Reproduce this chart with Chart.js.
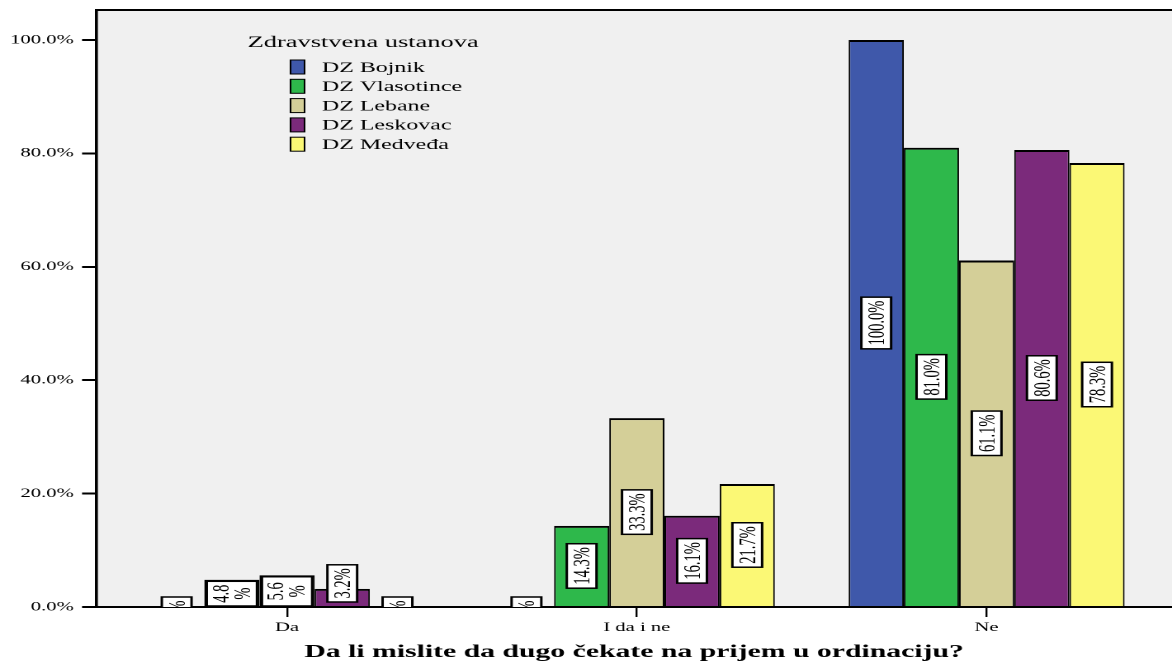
<!DOCTYPE html>
<html>
<head>
<meta charset="utf-8">
<script src="https://cdn.jsdelivr.net/npm/chart.js@4"></script>
<style>
  html, body { margin: 0; padding: 0; background: #fff; overflow: hidden; }
  /* the chart is laid out narrow and stretched sideways, like the exported SPSS graph */
  #wrap { width: 710px; height: 667px; transform: scaleX(1.650704); transform-origin: 0 0; }
</style>
</head>
<body>
<div id="wrap"><canvas id="chart"></canvas></div>
<script>
// === podaci ===
const categories = ["Da", "I da i ne", "Ne"];
const ustanove = ["DZ Bojnik", "DZ Vlasotince", "DZ Lebane", "DZ Leskovac", "DZ Medveđa"];
const bojnik = [0, 0, 100];
const vlasotince = [4.8, 14.3, 81.0];
const lebane = [5.6, 33.3, 61.1];
const leskovac = [3.2, 16.1, 80.6];
const medvedja = [0, 21.7, 78.3];
const yTicks = [0, 20, 40, 60, 80, 100];
const boje = ["#3f58aa", "#2eb84b", "#d4cf98", "#7b2a7b", "#fbf875"];

const serija = [bojnik, vlasotince, lebane, leskovac, medvedja];

// === pozadina i gornja ivica okvira ===
const okvir = {
    id: "okvir",
    beforeDraw(chart) {
        const { ctx, chartArea: a } = chart;
        ctx.save();
        ctx.fillStyle = "#fff";
        ctx.fillRect(0, 0, chart.width, chart.height);
        ctx.fillStyle = "#f0f0f0";
        ctx.fillRect(a.left, a.top, a.right - a.left, a.bottom - a.top);
        ctx.restore();
    },
    afterDraw(chart) {
        const { ctx, chartArea: a } = chart;
        ctx.save();
        ctx.strokeStyle = "#000";
        ctx.lineWidth = 2;
        ctx.beginPath();
        ctx.moveTo(a.left, a.top);
        ctx.lineTo(a.right, a.top);
        ctx.stroke();
        ctx.restore();
    },
};

// === oznake vrednosti u uspravnim kucicama ===
function kucica(ctx, x, y, w, h) {
    ctx.fillStyle = "#fff";
    ctx.fillRect(x, y, w, h);
    ctx.strokeStyle = "#000";
    ctx.lineWidth = 1.5;
    ctx.strokeRect(x, y, w, h);
}

const oznake = {
    id: "oznake",
    afterDatasetsDraw(chart) {
        const { ctx, chartArea: a } = chart;
        ctx.save();
        ctx.beginPath();
        ctx.rect(a.left, a.top, a.right - a.left, a.bottom - a.top);
        ctx.clip();
        ctx.font = '14.5px "Liberation Serif"';
        ctx.textAlign = "center";
        ctx.textBaseline = "middle";
        chart.data.datasets.forEach((ds, di) => {
            chart.getDatasetMeta(di).data.forEach((bar, i) => {
                const v = ds.data[i].y;
                const text = v.toFixed(1) + "%";
                const len = ctx.measureText(text).width;
                const full = len + 7;
                const bw = 18;
                const h = bar.base - bar.y;
                let lines = [text];
                let bx = bar.x - bw / 2, by, boxW = bw, boxH = full;
                if (v === 0) {
                    by = bar.base - 10;
                } else if (h - 4 >= full) {
                    by = (bar.y + bar.base) / 2 - full / 2;
                } else if (h >= 24) {
                    // niski stub: tekst u dva reda preko celog stuba
                    lines = [text.replace("%", ""), "%"];
                    bx = bar.x - bar.width / 2 + 1.5;
                    boxW = bar.width - 3;
                    by = bar.y + 1.5;
                    boxH = bar.base - by;
                } else {
                    by = bar.base - 4 - full;
                }
                kucica(ctx, bx, by, boxW, boxH);
                ctx.save();
                ctx.translate(bx + boxW / 2, by + boxH / 2);
                ctx.rotate(-Math.PI / 2);
                ctx.fillStyle = "#000";
                if (lines.length === 1) {
                    ctx.fillText(lines[0], 0, 1);
                } else {
                    ctx.fillText(lines[0], 0, -6);
                    ctx.fillText(lines[1], 0, 7);
                }
                ctx.restore();
            });
        });
        ctx.restore();
    },
};

// === legenda u gornjem levom delu ===
const legenda = {
    id: "legenda",
    afterDraw(chart) {
        const ctx = chart.ctx;
        ctx.save();
        ctx.fillStyle = "#000";
        ctx.font = '16px "Liberation Serif"';
        ctx.textBaseline = "alphabetic";
        ctx.fillText("Zdravstvena ustanova", 150, 47);
        ctx.font = '14.5px "Liberation Serif"';
        ctx.textBaseline = "middle";
        chart.data.datasets.forEach((ds, i) => {
            const y = 67 + i * 19.3;
            ctx.fillStyle = ds.backgroundColor;
            ctx.fillRect(176, y - 7, 8.5, 14);
            ctx.strokeStyle = "#000";
            ctx.lineWidth = 1;
            ctx.strokeRect(176, y - 7, 8.5, 14);
            ctx.fillStyle = "#000";
            ctx.fillText(ds.label, 195, y + 1);
        });
        ctx.restore();
    },
};

const ctx = document.getElementById("chart").getContext("2d");
new Chart(ctx, {
    type: "bar",
    data: {
        datasets: serija.map((vals, k) => ({
            label: ustanove[k],
            data: vals.map((v, i) => ({ x: i + 0.5, y: v })),
            backgroundColor: boje[k],
            borderColor: "#000",
            borderWidth: { top: 2, left: 1, right: 1, bottom: 0 },
            borderSkipped: false,
            barPercentage: 1,
            categoryPercentage: 0.789,
        })),
    },
    options: {
        responsive: true,
        maintainAspectRatio: false,
        devicePixelRatio: 2,
        animation: false,
        layout: { padding: { top: 10, right: 0, left: 0, bottom: 0 } },
        plugins: {
            legend: { display: false },
            tooltip: { enabled: false },
        },
        scales: {
            x: {
                type: "linear",
                offset: false,
                min: -0.046,
                max: 3.03,
                afterBuildTicks: (s) => {
                    s.ticks = categories.map((c, i) => ({ value: i + 0.5 }));
                },
                afterFit: (s) => { s.height = 60; },
                ticks: {
                    callback: (v) => categories[Math.floor(v)],
                    color: "#000",
                    font: { family: "Liberation Serif", size: 12.5 },
                    padding: 3,
                    maxRotation: 0,
                    autoSkip: false,
                },
                grid: { offset: false, drawOnChartArea: false, tickLength: 10, color: "#000", lineWidth: 1.2 },
                border: { display: true, color: "#000", width: 2 },
                title: {
                    display: true,
                    text: "Da li mislite da dugo čekate na prijem u ordinaciju?",
                    color: "#000",
                    font: { family: "Liberation Serif", size: 18, weight: "bold" },
                    padding: { top: 0, bottom: 4 },
                },
            },
            y: {
                min: 0,
                max: 105.29,
                afterBuildTicks: (s) => {
                    s.ticks = yTicks.map((v) => ({ value: v }));
                },
                afterFit: (s) => {
                    s.width = 58.2;
                    s.paddingTop = 0;
                    s.paddingBottom = 0;
                },
                ticks: {
                    callback: (v) => v.toFixed(1) + "%",
                    color: "#000",
                    font: { family: "Liberation Serif", size: 12.5 },
                    padding: 5,
                },
                grid: { drawOnChartArea: false, tickLength: 8.5, color: "#000", lineWidth: 2 },
                border: { display: true, color: "#000", width: 1.8 },
            },
        },
    },
    plugins: [okvir, oznake, legenda],
});
</script>
</body>
</html>
